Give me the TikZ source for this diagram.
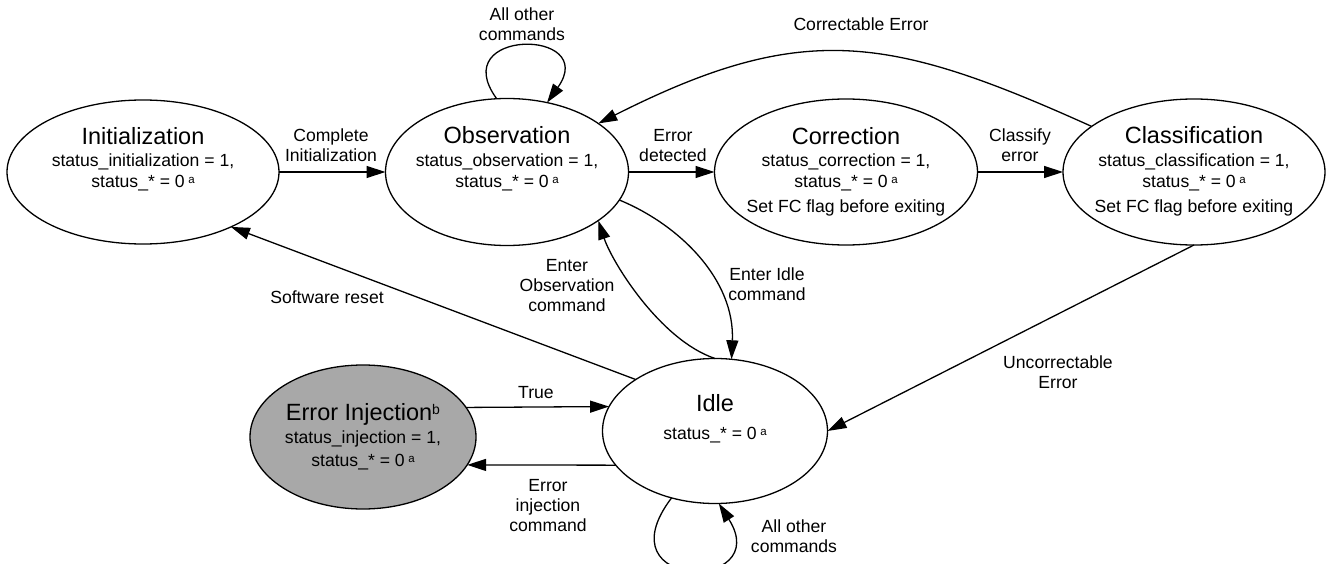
\documentclass[tikz,border=0pt]{standalone}
\usepackage{fontspec}
\setmainfont{Liberation Sans}
\usetikzlibrary{arrows.meta,shapes.geometric}
\definecolor{injgray}{RGB}{168,168,168}
% superscript note markers
\newcommand{\notea}{\hspace{3.5pt}\raisebox{4pt}{\fontsize{11.5}{12}\selectfont a}}
\newcommand{\noteb}{\raisebox{5.5pt}{\fontsize{14}{15}\selectfont b}}

\tikzset{
  state/.style={ellipse, draw, line width=1.3pt, inner sep=0pt, outer sep=0pt},
  title/.style={anchor=base, inner sep=0pt, font=\fontsize{23.5}{26}\selectfont},
  body/.style={anchor=base, inner sep=0pt, font=\fontsize{17.6}{21}\selectfont},
  lbl/.style={align=center, inner sep=0pt, font=\fontsize{17.6}{20}\selectfont},
  edge/.style={line width=1.3pt, -{Triangle[length=19pt,width=12pt]}},
}

\begin{document}
\begin{tikzpicture}[x=1pt,y=-1pt]
\useasboundingbox (0,0) rectangle (1326,564);
\clip (0,0) rectangle (1326,564);

% states
\node[state, minimum width=272pt, minimum height=144pt] (init)  at (143,172) {};
\node[state, minimum width=243pt, minimum height=147pt] (obs)   at (507,172) {};
\node[state, minimum width=263pt, minimum height=146pt] (corr)  at (846,172) {};
\node[state, minimum width=262pt, minimum height=146pt] (class) at (1194,172) {};
\node[state, fill=injgray, minimum width=226pt, minimum height=144pt] (ei) at (363,437) {};
\node[state, minimum width=225pt, minimum height=145pt] (idle)  at (715,431) {};

% state texts
\node[title] (init-name) at (143,145) {Initialization};
\node[body]  (init-flag) at (143,167) {status\_initialization = 1,};
\node[body]  (init-rest) at (143,188) {status\_* = 0\notea};

\node[title] (obs-name) at (507,144) {Observation};
\node[body]  (obs-flag) at (507,167) {status\_observation = 1,};
\node[body]  (obs-rest) at (507,188) {status\_* = 0\notea};

\node[title] (corr-name) at (846,145) {Correction};
\node[body]  (corr-flag) at (846,167) {status\_correction = 1,};
\node[body]  (corr-rest) at (846,188) {status\_* = 0\notea};
\node[body]  (corr-exit) at (846,213) {Set FC flag before exiting};

\node[title] (class-name) at (1194,144) {Classification};
\node[body]  (class-flag) at (1194,167) {status\_classification = 1,};
\node[body]  (class-rest) at (1194,188) {status\_* = 0\notea};
\node[body]  (class-exit) at (1194,213) {Set FC flag before exiting};

\node[title] (ei-name) at (363,420) {Error Injection\noteb};
\node[body]  (ei-flag) at (363,443) {status\_injection = 1,};
\node[body]  (ei-rest) at (363,466) {status\_* = 0\notea};

\node[title] (idle-name) at (715,411) {Idle};
\node[body]  (idle-rest) at (715,439) {status\_* = 0\notea};

% transitions
\draw[edge] (init.east) -- (obs.west);
\draw[edge] (obs.east) -- (corr.west);
\draw[edge] (corr.east) -- (class.west);
\draw[edge] (class.156) .. controls (889,35) and (803,20) .. (obs.28);
\draw[edge] (obs.98) .. controls (445,28) and (600,28) .. (obs.60);
\draw[edge] (obs.-14) .. controls (680,225) and (735,280) .. (idle.77);
\draw[edge] (idle.north) .. controls (660,340) and (612,262) .. (obs.-28);
\draw[edge] (idle.147) -- (init.-32);
\draw[edge] (ei.16) -- (idle.167);
\draw[edge] (idle.-161) -- (ei.-15);
\draw[edge] (class.south) -- (idle.east);
\draw[edge] (idle.-123) .. controls (600,592) and (775,592) .. (idle.-87);

% transition labels
\node[lbl] (lbl-complete) at (331,145) {Complete\\Initialization};
\node[lbl] (lbl-detected) at (673,146) {Error\\detected};
\node[lbl] (lbl-classify) at (1020,145) {Classify\\error};
\node[lbl] (lbl-correctable) at (861,24) {Correctable Error};
\node[lbl] (lbl-obsloop) at (522,24) {All other\\commands};
\node[lbl] (lbl-enteridle) at (767,284) {Enter Idle\\command};
\node[lbl] (lbl-enterobs) at (567,286) {Enter\\Observation\\command};
\node[lbl] (lbl-reset) at (327,297) {Software reset};
\node[lbl] (lbl-true) at (536,393) {True};
\node[lbl] (lbl-inject) at (548,506) {Error\\injection\\command};
\node[lbl] (lbl-uncorr) at (1058,372) {Uncorrectable\\Error};
\node[lbl] (lbl-idleloop) at (794,536) {All other\\commands};
\end{tikzpicture}
\end{document}
